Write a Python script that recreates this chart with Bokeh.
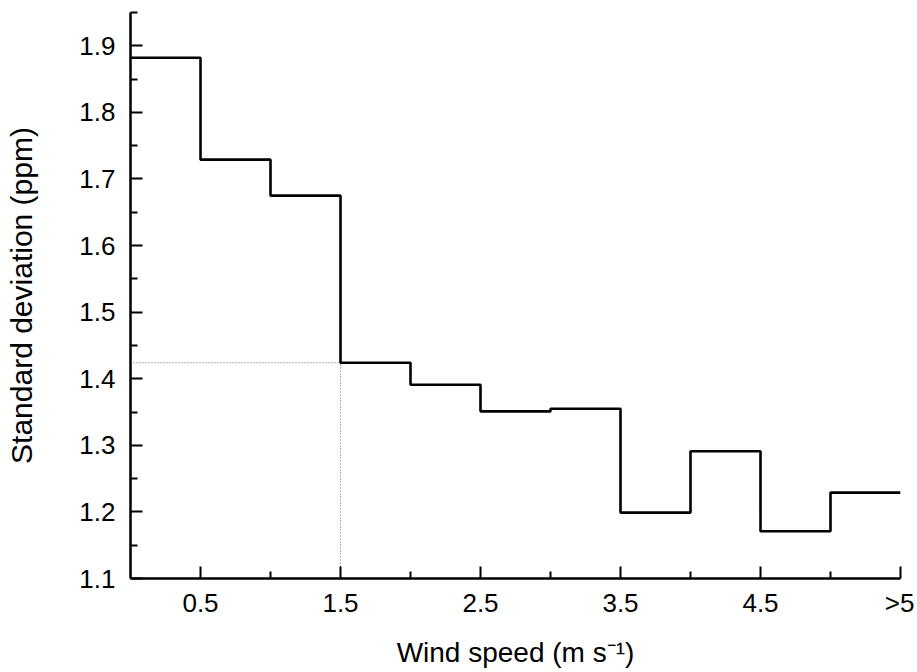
from bokeh.plotting import figure
from bokeh.models import Range1d, FixedTicker
from bokeh.embed import file_html
from bokeh.resources import INLINE

# Data
bin_edges = [0.0, 0.5, 1.0, 1.5, 2.0, 2.5, 3.0, 3.5, 4.0, 4.5, 5.0, 5.5]
std_dev = [1.882, 1.729, 1.675, 1.424, 1.391, 1.351, 1.355, 1.199, 1.291, 1.171, 1.229]
x_ticks = [0.5, 1.5, 2.5, 3.5, 4.5, 5.5]
x_tick_labels = ["0.5", "1.5", "2.5", "3.5", "4.5", ">5"]
x_minor = [1.0, 2.0, 3.0, 4.0, 5.0]
y_ticks = [1.1, 1.2, 1.3, 1.4, 1.5, 1.6, 1.7, 1.8, 1.9]
y_tick_labels = ["1.1", "1.2", "1.3", "1.4", "1.5", "1.6", "1.7", "1.8", "1.9"]
y_minor = [1.15, 1.25, 1.35, 1.45, 1.55, 1.65, 1.75, 1.85, 1.95]
ref_x = 1.5
ref_y = 1.424

FONT = "Liberation Sans"

p = figure(width=914, height=672, output_backend="svg", toolbar_location=None,
           x_range=Range1d(0, 5.5), y_range=Range1d(1.1, 1.95),
           min_border_left=130, min_border_right=14, min_border_top=12, min_border_bottom=94)
p.xgrid.visible = False
p.ygrid.visible = False
p.outline_line_color = None

# reference dotted lines
p.line(x=[bin_edges[0], ref_x], y=[ref_y, ref_y], line_color="#666666", line_width=1, line_dash="1 2")
p.line(x=[ref_x, ref_x], y=[y_ticks[0], ref_y], line_color="#666666", line_width=1, line_dash="1 2")

# step line
p.step(x=bin_edges, y=std_dev + [std_dev[-1]], mode="after", line_color="black", line_width=2.6)

for ax in (p.xaxis[0], p.yaxis[0]):
    ax.axis_line_width = 2.5
    ax.axis_line_color = "black"
    ax.major_tick_in = 12
    ax.major_tick_out = 0
    ax.minor_tick_in = 7
    ax.minor_tick_out = 0
    ax.major_tick_line_width = 2
    ax.minor_tick_line_width = 2
    ax.major_tick_line_color = "black"
    ax.minor_tick_line_color = "black"
    ax.major_label_text_font = FONT
    ax.major_label_text_font_size = "26px"
    ax.major_label_text_color = "black"
    ax.axis_label_text_font = FONT
    ax.axis_label_text_font_style = "normal"
    ax.axis_label_text_color = "black"

p.xaxis.axis_label_text_font_size = "28px"
p.yaxis.axis_label_text_font_size = "30px"

p.xaxis.ticker = FixedTicker(ticks=x_ticks, minor_ticks=x_minor)
p.xaxis.major_label_overrides = {t: l for t, l in zip(x_ticks, x_tick_labels)}
p.yaxis.ticker = FixedTicker(ticks=y_ticks, minor_ticks=y_minor)
p.yaxis.major_label_overrides = {t: l for t, l in zip(y_ticks, y_tick_labels)}

p.xaxis.axis_label = "Wind speed (m s\u207b\u00b9)"
p.yaxis.axis_label = "Standard deviation (ppm)"
p.xaxis.major_label_standoff = 9
p.yaxis.major_label_standoff = 15
p.xaxis.axis_label_standoff = 16
p.yaxis.axis_label_standoff = 38

open("out.html", "w").write(file_html(p, INLINE))
